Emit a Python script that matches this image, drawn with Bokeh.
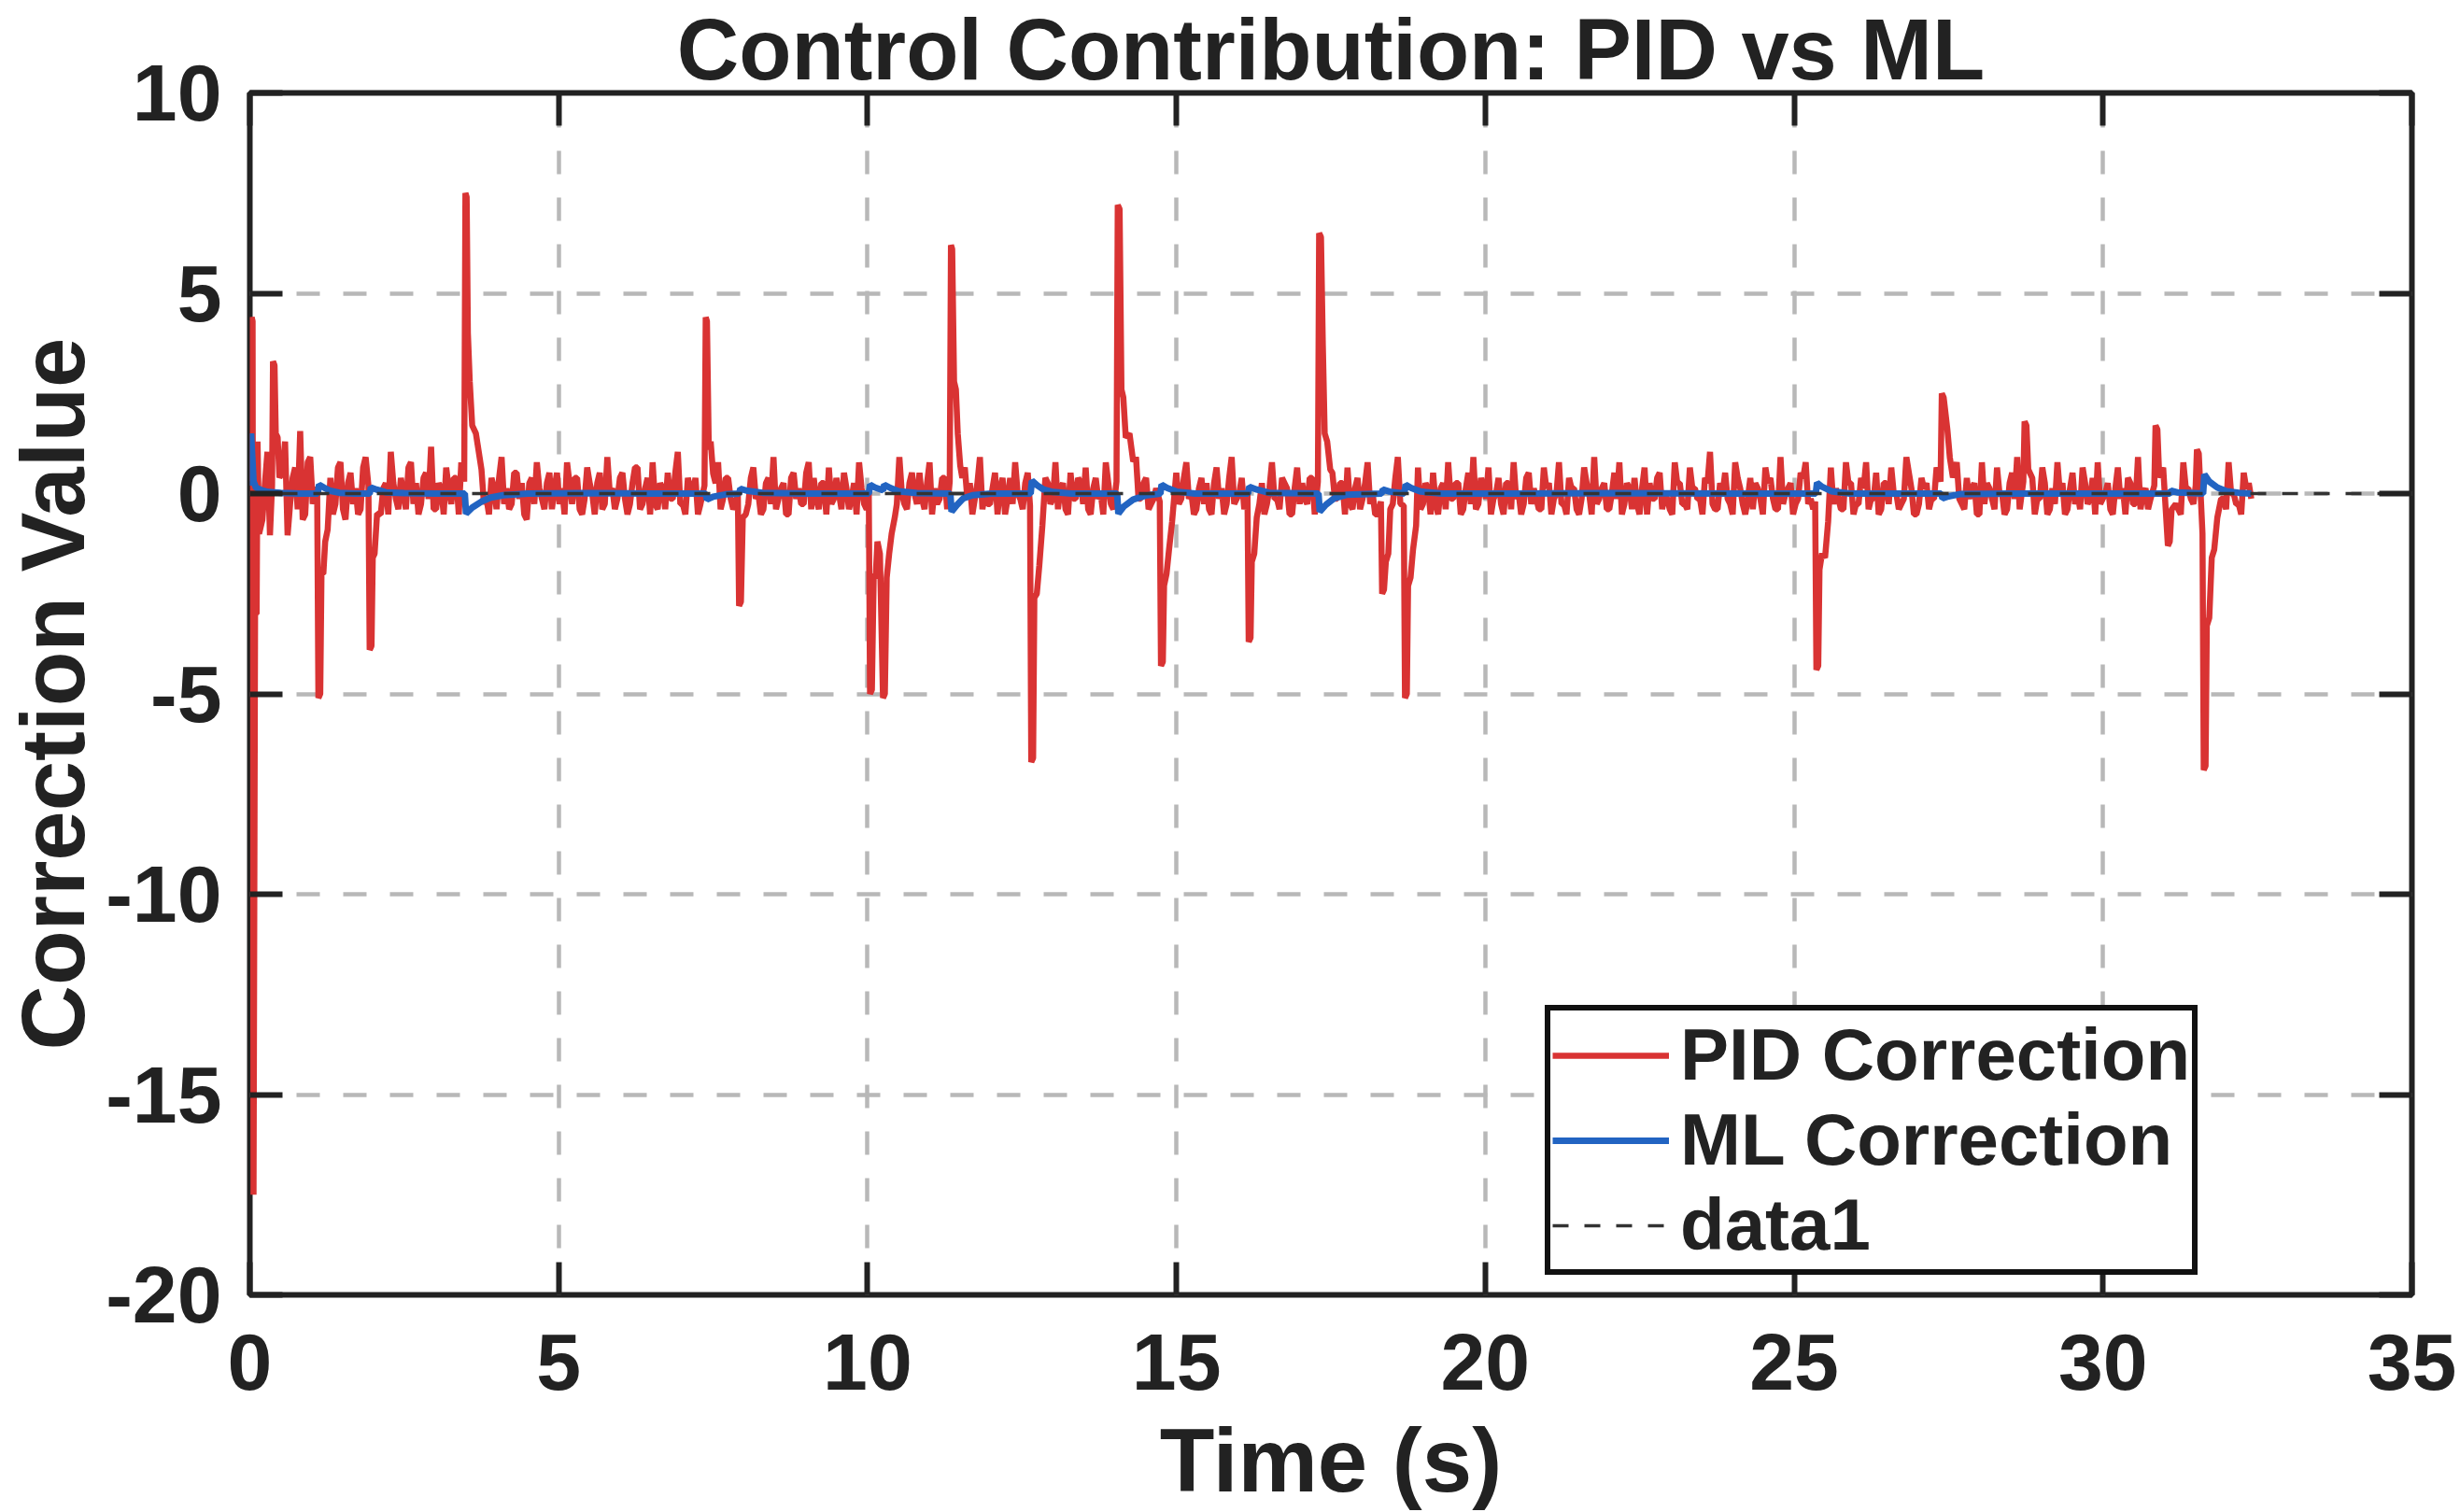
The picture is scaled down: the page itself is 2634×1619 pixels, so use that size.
import numpy as np
from bokeh.plotting import figure
from bokeh.models import Range1d, FixedTicker, LinearAxis, CustomLabelingPolicy
from bokeh.embed import file_html
from bokeh.resources import INLINE

# ---- data ----
# PID correction: background jitter, two interleaved runs over 0 .. 32.4 s
# (values in units of noise_unit)
noise_unit = 0.13
pid_noise_a = [
    9, -7, 11, 2, -8, 6, -3, 10, -2, 5, 12, -4, 7, 1, -6, 9, 3, -2, 6, -5,
    4, 1, -3, 7, 0, 5, -4, 2, 8, -1, 3, -3, 6, 2, -2, 4, 9, -3, 1, 5,
    -2, 3, 6, -4, 2, 0, 5, -1, 3, -3, 7, 1, -2, 4, 2, -5, 3, 6, -1, 2,
    -3, 4, 1, 6, -2, 3, -4, 5, 0, 2, -3, 7, 1, -1, 4, -4, 2, 5, -2, 3,
    6, -3, 1, 4, -1, 8, -2, 3, 0, -4, 5, 2, -2, 6, -1, 3, -3, 4, 1, -2,
    5, 0, -3, 3, 7, -1, 2, -4, 4, 1, -2, 6, 3, -3, 2, 5, -1, 0, 4, -3,
    2, 6, -2, 3, -1, 5, 1, -4, 3, 7, -2, 2, 0, 4, -3, 6, 1, -1, 3, -2,
    4, -3, 5, 2, -1, 7, 0, -2, 4, 1, -4, 3, 6, -1, 2, -3, 5, 0, 3, -2,
    6, 1, -3, 4, -1, 2, 5, -4, 3, 0, 6, -2, 1, 4, -3, 2, 7, -1, 3, -2,
    1, 5, -3, 2, 4, -1, 6, 0, -3, 3, 2, -4, 5, 1, -2, 7, -1, 3, 0, -3,
    4, 2, -2, 6, -1, 3, 1, -4, 5, 2, -2, 3, 6, -3, 0, 4, -1, 2, 5, -3,
    3, -1, 6, 0, -4, 4, 2, -2, 7, 1, -3, 3, 5, -2, 1, 4, -4, 2, 6, -1,
    2, -3, 4, 7, -2, 1, 5, -1, 3, -4, 2, 6, 0, -2, 4, 1, -3, 5, 2, -1,
    6, -2, 3, 1, -4, 5, 0, 7, -1, 2, -3, 4, 6, -2, 1, 3, -4, 5, 2, -1,
    4, 0, -3, 6, 2, -2, 5, 1, -1, 3, 8, -3, 2, 4, -2, 6, 1, -4, 3, 2,
    -1, 5, 3, -3, 7, 0, 2, -2, 4, 6, -1, 3, -4, 2, 5, 1, -3, 6, 2, -2,
    3, 6, -1, 4, -3, 2, 5, 0, -2, 7, 1, -4, 3, 2, -1, 5, 4, -3, 2, 6,
    -2, 3, 1, -4, 6, 2, -1, 5, 0, -3, 4, 7, -2, 2, 3, -1, 5, -4, 1, 6,
    2, -3, 4, 0, 5, -2, 3, 6, -1, 2, -4, 5, 1, 3, -2, 7, 0, -3, 4, 2,
    5, -1, 3, -3, 6, 1, -2, 4, 2, -4, 5, 3, -1, 6, 0, -2, 4, 2,
]
pid_noise_b = [
    -9, 6, -5, 8, -2, -6, 4, -8, 3, -3, -5, 6, -2, -7, 4, -1, -4, 5, -3, 2,
    -2, -4, 5, -3, 3, -2, 1, -4, 2, -3, 0, 5, -2, -4, 3, -1, -3, 2, -4, 1,
    3, -4, -1, 2, -3, 4, -2, -4, 1, 3, -2, -3, 4, -1, -4, 2, -2, 1, -3, 4,
    1, -2, -4, 2, 3, -3, -1, 2, -4, 4, -2, 0, -3, 3, -1, -2, 5, -3, 1, -4,
    -2, 2, -3, -1, 4, -2, -4, 1, 3, -2, -1, -4, 2, -3, 3, -1, -2, 0, -4, 3,
    -1, -4, 2, -2, -3, 1, -4, 3, -1, -2, 4, -3, -1, 2, -4, -2, 3, -3, 1, -1,
    -4, 1, -3, 2, -2, -1, -4, 3, -2, 0, -3, 4, -2, -1, 2, -4, -2, 3, -3, 1,
    -2, 3, -1, -4, 2, -3, -2, 1, -4, 3, -1, -2, 0, -3, 4, -2, -1, -4, 2, -1,
    -3, 2, -4, -1, 3, -2, -3, 1, -1, -4, 2, -3, 0, -2, 3, -4, -1, 2, -3, -1,
    -4, 0, 2, -3, -2, 3, -1, -4, 1, -2, -3, 2, -1, -4, 3, -2, 0, -3, -1, 2,
    -2, -4, 1, -1, -3, 2, -4, 1, -2, -1, 3, -4, -2, 1, -3, -1, 2, -4, -2, 1,
    -3, 2, -2, -4, 1, -1, -3, 3, -2, -4, 0, -1, -3, 2, -4, -2, 1, -3, -1, 2,
    -4, 1, -2, -3, 3, -1, -4, 0, -2, 2, -3, -1, -4, 3, -2, -1, -3, 1, -4, 0,
    -2, -4, 1, -3, -1, 2, -4, -2, 1, -3, 0, -1, -4, 2, -3, -2, 1, -4, -1, 3,
    -3, -1, -4, 2, -2, -3, 1, -1, -4, 2, -2, -3, 0, -1, -4, 3, -2, -1, -3, 1,
    -4, 2, -1, -3, -2, 1, -4, -1, 3, -2, -3, 0, -4, 1, -2, -1, -3, 2, -4, -2,
    1, -3, -1, -4, 2, -2, 0, -3, -1, 4, -4, -2, 1, -3, -1, 2, -2, -4, 0, -1,
    -3, -1, 2, -4, -2, 1, -3, 0, -4, 2, -1, -3, -2, 1, -4, -1, 2, -3, -2, 0,
    -4, 1, -2, -3, 2, -1, -4, -2, 0, -3, 1, -1, -4, 2, -2, -3, 1, -1, -4, 2,
    -3, 0, -2, -4, 1, -1, -3, 2, -2, -4, 1, -1, -3, 0, -2, -4, 1, -1,
]
pid_end = 32.4

# PID correction: spikes (time s, value)
spike_t = [0.00, 0.03, 0.045, 0.06, 0.085, 0.11, 0.125, 0.15,
           0.36, 0.375, 0.40, 0.42, 0.45, 0.48,
           1.09, 1.11, 1.14, 1.16, 1.19, 1.22, 1.26,
           1.92, 1.94, 1.97, 1.99, 2.02, 2.06,
           3.47, 3.49, 3.51, 3.53, 3.56, 3.60, 3.66, 3.70, 3.75,
           7.36, 7.38, 7.40, 7.43, 7.46, 7.50,
           7.90, 7.92, 7.95, 7.98,
           10.02, 10.04, 10.07, 10.10, 10.13, 10.16, 10.20, 10.25, 10.28, 10.31, 10.35, 10.39, 10.44,
           11.33, 11.35, 11.37, 11.40, 11.43, 11.46, 11.50,
           12.63, 12.65, 12.68, 12.70, 12.74, 12.78, 12.83,
           14.03, 14.05, 14.08, 14.11, 14.14, 14.18, 14.24, 14.30,
           14.73, 14.75, 14.78, 14.80, 14.84, 14.88, 14.93,
           16.15, 16.17, 16.20, 16.22, 16.26, 16.30,
           17.29, 17.31, 17.34, 17.37, 17.40, 17.44, 17.49,
           18.31, 18.33, 18.36, 18.39, 18.43,
           18.68, 18.70, 18.73, 18.75, 18.79, 18.83, 18.88,
           25.34, 25.36, 25.39, 25.41, 25.45, 25.50, 25.55,
           27.37, 27.39, 27.42, 27.45, 27.48, 27.52, 27.57,
           28.71, 28.73, 28.76, 28.79,
           30.83, 30.85, 30.88, 30.91, 31.05, 31.08, 31.11,
           31.50, 31.52, 31.55, 31.61, 31.63, 31.66, 31.68, 31.72, 31.76, 31.80, 31.85]
spike_v = [0.3, 4.4, 4.3, -17.5, -3.0, -3.0, 1.3, -1.0,
           0.2, 3.3, 3.2, 1.5, 1.4, 0.4,
           0.1, -5.1, -5.0, -2.0, -2.0, -1.2, -0.9,
           0.2, -3.9, -3.8, -1.6, -1.5, -0.5,
           0.3, 7.5, 7.4, 4.0, 2.8, 1.7, 1.5, 1.1, 0.6,
           0.2, 4.4, 4.3, 1.1, 1.3, 0.5,
           0.0, -2.8, -2.7, -0.6,
           0.0, -5.0, -4.9, -2.0, -2.1, -1.2, -1.5, -5.1, -5.0, -2.1, -1.5, -1.0, -0.6,
           0.3, 6.2, 6.1, 2.8, 2.6, 1.5, 0.7,
           -0.3, -6.7, -6.6, -2.6, -2.5, -1.8, -0.8,
           0.3, 7.2, 7.1, 2.6, 2.4, 1.4, 1.5, 0.8,
           -0.2, -4.3, -4.2, -2.3, -2.0, -1.4, -0.7,
           0.0, -3.7, -3.6, -1.7, -1.5, -0.6,
           0.3, 6.5, 6.4, 3.7, 1.5, 1.3, 0.6,
           -0.2, -2.5, -2.4, -1.7, -1.5,
           -0.3, -5.1, -5.0, -2.3, -2.1, -1.4, -0.8,
           -0.2, -4.4, -4.3, -1.9, -1.5, -1.6, -0.7,
           0.3, 2.5, 2.4, 2.0, 1.6, 0.9, 0.4,
           0.3, 1.8, 1.7, 0.6,
           0.2, 1.7, 1.6, 0.4, -1.3, -1.2, -0.4,
           0.2, 1.1, 1.0, -1.0, -6.9, -6.8, -3.3, -3.1, -1.6, -1.4, -0.6]

# ML correction (time s, value)
ml_t = [0.0, 0.02, 0.04, 0.06, 0.10, 0.20, 0.30, 0.50, 0.80,
        1.10, 1.12, 1.20, 1.30, 1.45, 1.70, 1.94, 1.96, 2.05, 2.20, 2.50, 3.00,
        3.48, 3.50, 3.60, 3.75, 3.90, 4.10, 4.50, 5.50, 6.50,
        7.38, 7.40, 7.50, 7.70, 7.92, 7.94, 8.05, 8.30, 9.00,
        10.02, 10.04, 10.12, 10.25, 10.27, 10.37, 10.50, 10.80,
        11.34, 11.36, 11.45, 11.55, 11.70, 12.00,
        12.64, 12.66, 12.75, 12.85, 13.00, 13.30,
        14.04, 14.06, 14.15, 14.30, 14.50, 14.74, 14.76, 14.85, 15.00, 15.30,
        16.16, 16.18, 16.30, 16.50, 17.30, 17.32, 17.42, 17.55, 17.75,
        18.32, 18.34, 18.45, 18.69, 18.71, 18.80, 18.95, 19.30,
        20.50, 22.00, 24.00, 25.35, 25.37, 25.45, 25.60, 25.90,
        27.38, 27.40, 27.50, 27.70, 28.50, 30.50, 31.08, 31.10, 31.20,
        31.62, 31.64, 31.72, 31.85, 32.00, 32.20, 32.40]
ml_v = [0.2, 1.5, 0.9, 0.3, 0.15, 0.08, 0.04, 0.02, 0.0,
        0.0, 0.22, 0.15, 0.07, 0.02, 0.0, 0.0, 0.15, 0.10, 0.03, 0.01, 0.0,
        0.0, -0.5, -0.35, -0.2, -0.1, -0.04, 0.0, 0.01, 0.0,
        0.0, -0.15, -0.08, -0.02, 0.0, 0.12, 0.07, 0.02, 0.0,
        0.0, 0.22, 0.15, 0.08, 0.22, 0.14, 0.06, 0.01,
        0.0, -0.45, -0.28, -0.12, -0.04, 0.0,
        0.0, 0.32, 0.20, 0.10, 0.04, 0.0,
        0.0, -0.5, -0.32, -0.15, -0.05, 0.0, 0.22, 0.14, 0.05, 0.0,
        0.0, 0.17, 0.10, 0.02, 0.0, -0.45, -0.28, -0.12, -0.03,
        0.0, 0.10, 0.05, 0.0, 0.22, 0.14, 0.05, 0.0,
        0.0, 0.01, 0.0, 0.0, 0.27, 0.17, 0.06, 0.0,
        0.0, -0.12, -0.07, -0.01, 0.0, 0.0, 0.0, 0.07, 0.03,
        0.0, 0.48, 0.30, 0.15, 0.06, 0.02, 0.0]

# zero reference line ("data1")
data1_t = [0.0, 35.0]
data1_v = [0.0, 0.0]

x_ticks = [0, 5, 10, 15, 20, 25, 30, 35]
y_ticks = [-20, -15, -10, -5, 0, 5, 10]
y_tick_text = {-20: "-20", -15: "-15", -10: "-10", -5: "-5"}

# ---- build the PID series: jitter + spikes ----
noise_v = np.empty(len(pid_noise_a) + len(pid_noise_b))
noise_v[0::2] = pid_noise_a
noise_v[1::2] = pid_noise_b
noise_v = noise_v * noise_unit
noise_t = np.linspace(0, pid_end, len(noise_v))
st = np.array(spike_t)
keep = np.array([np.min(np.abs(st - t)) > 0.03 for t in noise_t])
pid_t = np.concatenate([noise_t[keep], st])
pid_v = np.concatenate([noise_v[keep], np.array(spike_v)])
order = np.argsort(pid_t, kind="stable")
pid_t, pid_v = pid_t[order], pid_v[order]

FONT = "Liberation Sans"
INK = "#222222"

p = figure(width=2634, height=1619, x_range=Range1d(0, 35), y_range=Range1d(-20, 10),
           output_backend="svg", toolbar_location=None,
           min_border_left=260, min_border_right=52, min_border_top=99, min_border_bottom=233,
           title="Control Contribution: PID vs ML")
p.background_fill_color = "white"
p.border_fill_color = "white"
p.outline_line_color = INK
p.outline_line_width = 6

p.title.align = "center"
p.title.vertical_align = "top"
p.title.text_font = FONT
p.title.text_font_size = "92px"
p.title.text_font_style = "bold"
p.title.text_color = INK
p.title.standoff = -12

p.line(pid_t, pid_v, line_color="#d93333", line_width=6.5, legend_label="PID Correction")
p.line(ml_t, ml_v, line_color="#2264c2", line_width=7, legend_label="ML Correction")
p.line(data1_t, data1_v, line_color="#333333", line_width=3.5, line_dash="17 17",
       legend_label="data1")

top_axis = LinearAxis()
right_axis = LinearAxis()
p.add_layout(top_axis, "above")
p.add_layout(right_axis, "right")

for ax in p.xaxis:
    ax.ticker = FixedTicker(ticks=x_ticks)
for ax in p.yaxis:
    ax.ticker = FixedTicker(ticks=y_ticks)
for ax in p.xaxis + p.yaxis:
    ax.axis_line_color = None
    ax.major_tick_in = 35
    ax.major_tick_out = 0
    ax.major_tick_line_width = 6
    ax.major_tick_line_color = INK
    ax.minor_tick_line_color = None
    ax.major_label_text_font = FONT
    ax.major_label_text_font_size = "86px"
    ax.major_label_text_font_style = "bold"
    ax.major_label_text_color = INK
    ax.axis_label_text_font = FONT
    ax.axis_label_text_font_style = "bold"
    ax.axis_label_text_color = INK
    ax.axis_label_standoff = 0
for ax in (top_axis, right_axis):
    ax.major_label_policy = CustomLabelingPolicy(
        code="for (const i of indices) { indices.unset(i) }")
    ax.major_label_text_font_size = "0px"
    ax.major_label_standoff = 0

xa = p.below[0]
xa.axis_label = "Time (s)"
xa.axis_label_text_font_size = "96px"
xa.major_label_standoff = 42
xa.axis_label_standoff = 19
xa.axis_label_text_line_height = 0.5
ya = p.left[0]
ya.axis_label = "Correction Value"
ya.axis_label_text_font_size = "96px"
ya.major_label_standoff = 30
ya.axis_label_standoff = 0
ya.major_label_overrides = y_tick_text

p.xgrid.ticker = FixedTicker(ticks=x_ticks)
p.ygrid.ticker = FixedTicker(ticks=y_ticks)
for g in (p.xgrid, p.ygrid):
    g.grid_line_color = "#b8b8b8"
    g.grid_line_width = 4.5
    g.grid_line_dash = "25 25"

lg = p.legend[0]
lg.location = (1387, 21)
lg.border_line_color = "#111111"
lg.border_line_alpha = 1
lg.border_line_width = 6
lg.background_fill_color = "white"
lg.background_fill_alpha = 1
lg.padding = 2
lg.spacing = 0
lg.margin = 0
lg.glyph_width = 125
lg.glyph_height = 40
lg.label_standoff = 12
lg.label_text_font = FONT
lg.label_text_font_size = "78px"
lg.label_text_font_style = "bold"
lg.label_text_color = INK

open("out.html", "w").write(file_html(p, INLINE))
